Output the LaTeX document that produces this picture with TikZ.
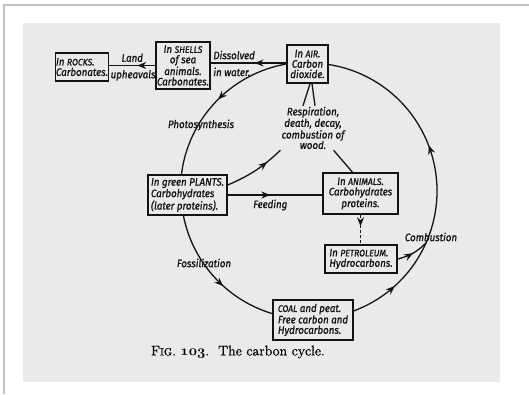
\documentclass[tikz,border=0pt]{standalone}
\usepackage{fontspec}
\newfontfamily\letterfont{Fira Sans}[FakeBold=1.2, FakeStretch=0.9]
\newfontfamily\capfont{Latin Modern Roman}[FakeBold=0.8]
\usepackage{tikz}
\usetikzlibrary{arrows.meta, positioning, decorations.markings, calc}
\definecolor{scan}{RGB}{234, 234, 234}
\definecolor{frame}{RGB}{192, 192, 192}
\definecolor{ink}{RGB}{20, 20, 20}
\newcommand{\oldfig}[1]{{\usefont{OML}{cmm}{b}{it}#1}}
\newcommand{\smallcap}[1]{{\fontsize{9.5}{10.4}\selectfont #1}}
\tikzstyle{store} = [
    rectangle,
    draw=ink,
    line width=1.5pt,
    fill=scan,
    inner sep=1pt,
    text=ink,
    font=\letterfont\itshape\fontsize{10.8}{10.4}\selectfont
]
\tikzstyle{note} = [
    inner sep=1pt,
    text=ink,
    font=\letterfont\itshape\fontsize{10.8}{10.4}\selectfont
]
\tikzstyle{flow} = [
    line width=1.3pt,
    draw=ink
]
\tikzset{midarrow/.style={postaction={decorate, decoration={markings,
    mark=at position #1 with {\arrow{Stealth[length=9pt, width=7pt, inset=3pt]}}}}}}

\begin{document}
\begin{tikzpicture}[x=1pt, y=1pt]
        \useasboundingbox (0, 0) rectangle (529, 394);
        % Page and frame
        \fill[scan] (23, 12) rectangle (500, 371);
        \draw[frame, line width=1.3pt] (4, 0) -- (4, 389) -- (529, 389);

        % Stores
        \node[store, minimum width=52, minimum height=28, inner sep=0.5pt, align=left] (rocks) at (82, 327) {In \smallcap{ROCKS}.\\Carbonates.};
        \node[store, minimum width=48, minimum height=47, align=center] (shells) at (183, 328.5) {In \smallcap{SHELLS}\\of sea\\animals.\\Carbonates.};
        \node[store, minimum width=41, minimum height=38, align=center] (air) at (307.5, 330) {In \smallcap{AIR}.\\Carbon\\dioxide.};
        \node[store, minimum width=79, minimum height=40, align=left] (plants) at (187.5, 199) {In green PLANTS.\\Carbohydrates\\(later proteins).};
        \node[store, minimum width=75, minimum height=41, align=center] (animals) at (360.5, 200.5) {In \smallcap{ANIMALS}.\\Carbohydrates\\proteins.};
        \node[store, minimum width=72, minimum height=28, align=left] (petroleum) at (361, 135) {In \smallcap{PETROLEUM}.\\Hydrocarbons.};
        \node[store, minimum width=80, minimum height=40, align=left] (coal) at (313, 74) {\smallcap{COAL} and peat.\\Free carbon and\\Hydrocarbons.};
        \node[note, align=center] (resp) at (313, 266) {Respiration,\\death, decay,\\combustion of\\wood.};

        % Points on the cycle
        \coordinate (c) at (309, 203);
        \path (c) ++(190.8:128) coordinate (plantsout);
        \path (c) ++(-69.9:128) coordinate (coalout);
        \path (c) ++(-24:128) coordinate (burn);

        % Cycle
        \draw[flow, midarrow=0.48] (air.west) arc[start angle=100, end angle=172.8, radius=128pt];
        \draw[flow, midarrow=0.59] (plantsout) arc[start angle=190.8, end angle=253.7, radius=128pt];
        \draw[flow, midarrow=0.145, midarrow=0.6] (coalout) arc[start angle=-69.9, end angle=81.5, radius=128pt];

        % Arrows
        \draw[flow, midarrow=0.42] ([yshift=1]air.west) -- ([yshift=1]air.west -| shells.east)
            node[note, pos=1, anchor=south west, xshift=1, yshift=2] {Dissolved}
            node[note, pos=1, anchor=north west, xshift=1, yshift=-3] {in water.};
        \draw[flow, midarrow=0.39] (shells.west) -- (shells.west -| rocks.east)
            node[note, midway, above=2] {Land}
            node[note, midway, below=3, xshift=2] {upheavals.};
        \draw[flow, midarrow=0.72] ([yshift=10]plants.east) to[bend right=10] (resp.south west);
        \draw[flow] ([xshift=-8]animals.north) -- ([xshift=-12]resp.south east);
        \draw[flow] ([xshift=-10]resp.north) -- ([xshift=2.5]air.south);
        \draw[flow] ([xshift=2]resp.north) -- ([xshift=4.5]air.south);
        \draw[flow, midarrow=0.45] (plants.east) -- (plants.east -| animals.west)
            node[note, pos=0.45, below=3] {Feeding};
        \draw[flow, dash pattern=on 3pt off 2pt, midarrow=0.39] (animals.south) -- (animals.south |- petroleum.north);
        \draw[flow, midarrow=0.5] (petroleum.east) to[bend right=15] (burn);

        % Labels on the cycle
        \node[note] (photo) at (201, 269) {Photosynthesis};
        \node[note] (fossil) at (204, 131) {Fossilization};
        \node[note] (combust) at (431, 157) {Combustion};

        % Caption
        \node[font=\capfont\fontsize{14}{16}\selectfont] (caption) at (238, 42) {F{\fontsize{10.5}{12}\selectfont IG}. \oldfig{103}.\ \ The carbon cycle.};
    \end{tikzpicture}
\end{document}
